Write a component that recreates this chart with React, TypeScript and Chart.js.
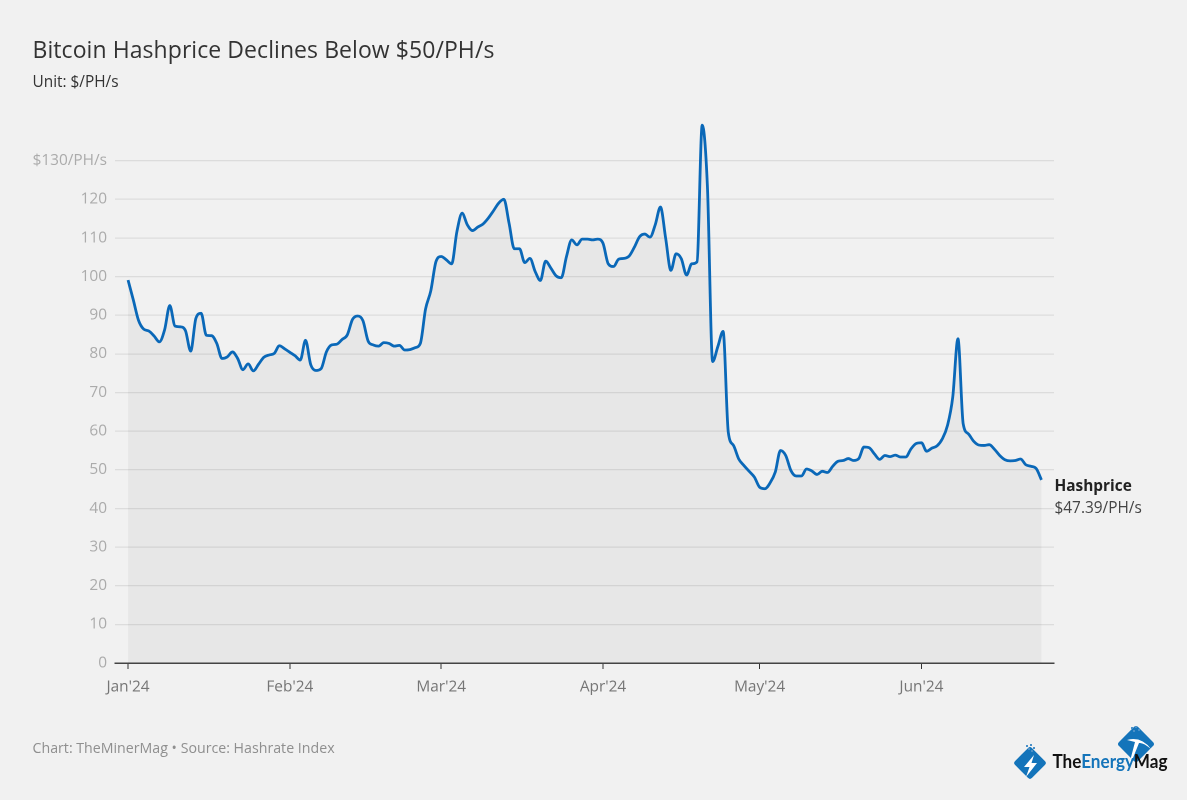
import React, { useEffect, useRef } from "react";
import { Chart, registerables } from "chart.js";

Chart.register(...registerables);

const monthStarts = [0, 31, 60, 91, 121, 152];
const monthLabels = ["Jan'24", "Feb'24", "Mar'24", "Apr'24", "May'24", "Jun'24"];
const yTicks = [0, 10, 20, 30, 40, 50, 60, 70, 80, 90, 100, 110, 120, 130];

// Daily hashprice, 1 Jan 2024 to 24 Jun 2024, $/PH/s
const hashprice = [
  99.1, 94, 88.7, 86.4, 85.9, 84.6, 83.1, 86.2, 92.5, 87.2, 87, 86, 80.7, 89.2, 90.5, 84.8,
  84.7, 82.7, 78.8, 79.2, 80.5, 78.8, 75.9, 77.4, 75.6, 77.3, 79.1, 79.7, 80.1, 82.1, 81.3,
  80.4, 79.5, 78.4, 83.5, 77.2, 75.7, 76.2, 80.5, 82.3, 82.5, 83.7, 84.9, 88.9, 89.8, 88.6,
  83.3, 82.3, 82, 82.9, 82.7, 82, 82.2, 81, 81.1, 81.6, 82.7, 91.6, 96.3, 103.9,
  105.2, 104.3, 103.3, 111.6, 116.4, 113.4, 111.9, 112.8, 113.6, 115.1, 117, 119, 120, 113.8,
  107.2, 107.2, 103.6, 104.7, 101.3, 99, 104, 102.2, 100.2, 99.7, 105.2, 109.5, 108.2, 109.7,
  109.7, 109.5, 109.7, 108.6, 103.3, 102.6, 104.5, 104.7, 105.3, 107.6, 110.3, 111, 110.2,
  113.4, 118, 109.9, 101.6, 105.9, 104.6, 100.4, 103.3, 103.8, 139.2, 123.3, 78, 81.9, 85.8,
  59.7, 56.3, 52.8, 51.1, 49.6, 48.1, 45.5, 45.1, 46.6, 49.4, 55, 53.7, 49.8, 48.4, 48.4,
  50.2, 49.7, 48.8, 49.6, 49.3, 50.9, 52.2, 52.4, 52.9, 52.4, 52.9, 55.9, 55.7, 54.1, 52.7,
  53.7, 53.4, 53.8, 53.3, 53.3, 55.4, 56.8, 57, 54.8, 55.6, 56.2, 58, 61.5, 68.8, 83.9, 61.9,
  59.3, 57.4, 56.4, 56.3, 56.5, 55.3, 53.7, 52.6, 52.3, 52.4, 52.8, 51.3, 50.9, 50.3, 47.39,
];

const titleText = "Bitcoin Hashprice Declines Below $50/PH/s";
const subtitleText = "Unit: $/PH/s";
const sourceText = "Chart: TheMinerMag • Source: Hashrate Index";
const seriesName = "Hashprice";
const lastValueText = "$47.39/PH/s";

const FONT = "'Open Sans', sans-serif";

const textStyle = (
  left: number,
  centerY: number,
  size: number,
  color: string,
  weight = 400,
  spacing = 0
): React.CSSProperties => ({
  position: "absolute",
  left,
  top: centerY - 15,
  height: 30,
  lineHeight: "30px",
  fontFamily: FONT,
  fontSize: size,
  fontWeight: weight,
  color,
  letterSpacing: spacing,
  whiteSpace: "nowrap",
});

export default function App() {
  const ref = useRef<HTMLCanvasElement>(null);

  useEffect(() => {
    const chart = new Chart(ref.current!, {
      type: "line",
      data: {
        datasets: [
          {
            label: seriesName,
            data: hashprice.map((v, i) => ({ x: i, y: v })),
            borderColor: "#0a68b8",
            borderWidth: 2.8,
            backgroundColor: "rgba(0,0,0,0.04)",
            fill: "origin",
            pointRadius: 0,
            cubicInterpolationMode: "monotone",
          },
        ],
      },
      options: {
        animation: false,
        responsive: false,
        devicePixelRatio: 2,
        layout: { padding: { top: 122, right: 133, left: 0, bottom: 0 } },
        plugins: { legend: { display: false }, tooltip: { enabled: false } },
        scales: {
          x: {
            type: "linear",
            min: -2.5,
            max: 177.4,
            afterBuildTicks: (s: any) => {
              s.ticks = monthStarts.map((value) => ({ value }));
            },
            afterFit: (s: any) => {
              s.height = 137;
            },
            ticks: {
              autoSkip: false,
              maxRotation: 0,
              padding: 9,
              color: "#757575",
              font: { family: FONT, size: 15.4 },
              callback: (v: any) => monthLabels[monthStarts.indexOf(Number(v))] ?? "",
            },
            grid: { drawOnChartArea: false, drawTicks: true, tickLength: 6, tickColor: "#333333", tickWidth: 1 },
            border: { display: true, color: "#444444", width: 1.5 },
          },
          y: {
            type: "linear",
            min: 0,
            max: 140,
            afterBuildTicks: (s: any) => {
              s.ticks = yTicks.map((value) => ({ value }));
            },
            afterFit: (s: any) => {
              s.width = 115;
            },
            ticks: {
              padding: 8,
              color: "#ababab",
              font: { family: FONT, size: 15.4 },
              callback: (v: any) => (Number(v) === 130 ? "$130/PH/s" : String(v)),
            },
            grid: { color: "#dcdcdc", lineWidth: 1.2, drawTicks: false },
            border: { display: false },
          },
        },
      },
    } as any);
    return () => chart.destroy();
  }, []);

  return (
    <div style={{ position: "fixed", left: 0, top: 0, width: 1187, height: 800, background: "#f1f1f1", overflow: "hidden" }}>
      <canvas ref={ref} width={1187} height={800} style={{ position: "absolute", left: 0, top: 0, width: 1187, height: 800 }} />
      <div style={textStyle(32.5, 48.5, 23, "#333333", 400, 0.07)}>{titleText}</div>
      <div style={textStyle(32.5, 82, 15.4, "#333333")}>{subtitleText}</div>
      <div style={textStyle(1054.5, 485.5, 15.4, "#222222", 700)}>{seriesName}</div>
      <div style={textStyle(1054.5, 507.5, 15.4, "#444444")}>{lastValueText}</div>
      <div style={textStyle(32.5, 747.5, 14.2, "#8f8f8f")}>{sourceText}</div>
      <svg width={1187} height={800} style={{ position: "absolute", left: 0, top: 0 }}>
        <rect x={1018} y={751} width={24} height={24} rx={3} transform="rotate(45 1030 763)" fill="#1474ba" />
        <polygon points="1034,755 1024,767 1029.5,767 1026,777 1037,763 1031.5,763 1034,755" fill="#ffffff" />
        <g fill="#4a90c8">
          <rect x={1026} y={745} width={2} height={2} />
          <rect x={1030} y={744} width={2} height={2} />
          <rect x={1033} y={747} width={2} height={2} />
          <rect x={1028} y={748} width={2} height={2} />
          <rect x={1031} y={750} width={2} height={2} />
        </g>
        <rect x={1122.5} y={730.5} width={27} height={27} rx={3} transform="rotate(45 1136 744)" fill="#1474ba" />
        <path d="M1127 740 Q1141 736 1151 749 Q1143 742 1139 743 L1131 763 L1129.5 763 L1135 742 Q1131 741 1127 740 Z" fill="#ffffff" />
        <g fill="#4a90c8">
          <rect x={1131} y={727} width={2} height={2} />
          <rect x={1135} y={726} width={2} height={2} />
          <rect x={1138} y={729} width={2} height={2} />
          <rect x={1133} y={730} width={2} height={2} />
        </g>
        <text x={1052.5} y={768} fontFamily="Lato, sans-serif" fontSize={19} fontWeight={700} textLength={115} lengthAdjust="spacingAndGlyphs">
          <tspan fill="#111111">The</tspan>
          <tspan fill="#1474ba">Energy</tspan>
          <tspan fill="#111111">Mag</tspan>
        </text>
      </svg>
    </div>
  );
}
